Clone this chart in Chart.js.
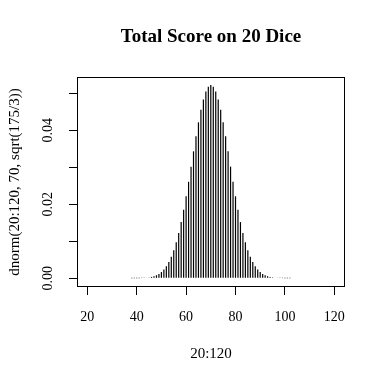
<!DOCTYPE html>
<html>
<head>
<meta charset="utf-8">
<script src="https://cdn.jsdelivr.net/npm/chart.js@4/dist/chart.umd.min.js"></script>
<style>
  html, body { margin: 0; padding: 0; background: #fff; }
  canvas { display: block; }
</style>
</head>
<body>
<canvas id="c" width="384" height="383"></canvas>
<script>
// Total score (x values 20:120)
const scores = [20,21,22,23,24,25,26,27,28,29,30,31,32,33,34,35,36,37,38,39,
  40,41,42,43,44,45,46,47,48,49,50,51,52,53,54,55,56,57,58,59,
  60,61,62,63,64,65,66,67,68,69,70,71,72,73,74,75,76,77,78,79,
  80,81,82,83,84,85,86,87,88,89,90,91,92,93,94,95,96,97,98,99,
  100,101,102,103,104,105,106,107,108,109,110,111,112,113,114,115,116,117,118,119,120];
// Density values
const density = [0,0,0,0,0,0,0,0,0,0,0,0,0,0,0,0,0,0,0.000008,0.000014,
  0.000023,0.000039,0.000063,0.000101,0.000159,0.000246,0.000375,0.000561,0.000825,0.00119,
  0.00169,0.00237,0.00325,0.00439,0.00582,0.00759,0.00973,0.01227,0.01520,0.01852,
  0.02217,0.02609,0.03018,0.03432,0.03837,0.04216,0.04554,0.04836,0.05047,0.05179,
  0.05223,0.05179,0.05047,0.04836,0.04554,0.04216,0.03837,0.03432,0.03018,0.02609,
  0.02217,0.01852,0.01520,0.01227,0.00973,0.00759,0.00582,0.00439,0.00325,0.00237,
  0.00169,0.00119,0.000825,0.000561,0.000375,0.000246,0.000159,0.000101,0.000063,0.000039,
  0.000023,0.000014,0.000008,0,0,0,0,0,0,0,0,0,0,0,0,0,0,0,0,0,0];
const xTicks = [20,40,60,80,100,120];
const xTickLabels = ['20','40','60','80','100','120'];
const yTicks = [0,0.01,0.02,0.03,0.04,0.05];
const yTickLabels = ['0.00','','0.02','','0.04',''];

const SERIF = "'Liberation Serif', 'Times New Roman', serif";

const boxPlugin = {
  id: 'box',
  beforeDraw(chart) {
    const ctx = chart.ctx;
    ctx.save();
    ctx.fillStyle = '#fff';
    ctx.fillRect(0, 0, chart.width, chart.height);
    ctx.restore();
  },
  afterDraw(chart) {
    const a = chart.chartArea, ctx = chart.ctx;
    ctx.save();
    ctx.strokeStyle = '#000';
    ctx.lineWidth = 1;
    ctx.strokeRect(Math.round(a.left) + 0.5, Math.round(a.top) + 0.5,
                   Math.round(a.right - a.left) - 1, Math.round(a.bottom - a.top) - 1);
    ctx.restore();
  }
};

new Chart(document.getElementById('c'), {
  type: 'bar',
  data: {
    datasets: [{
      data: scores.map((s, i) => ({ x: s, y: density[i] })),
      backgroundColor: '#000',
      borderWidth: 0,
      barThickness: 1.2,
      inflateAmount: 0,
      grouped: false
    }]
  },
  options: {
    responsive: false,
    animation: false,
    devicePixelRatio: 1,
    layout: { padding: { left: 0, right: 39, top: 0, bottom: 0 } },
    plugins: {
      legend: { display: false },
      tooltip: { enabled: false },
      title: {
        display: true,
        text: 'Total Score on 20 Dice',
        fullSize: false,
        color: '#000',
        font: { family: SERIF, size: 19, weight: 'bold', lineHeight: 1.2 },
        padding: { top: 25.6, bottom: 28.6 }
      }
    },
    scales: {
      x: {
        type: 'linear',
        min: 15.83,
        max: 124.33,
        offset: false,
        grid: { display: true, offset: false, drawOnChartArea: false, drawTicks: true, tickLength: 8, color: '#000', lineWidth: 1 },
        border: { display: false },
        afterBuildTicks: s => { s.ticks = xTicks.map(v => ({ value: v })); },
        afterFit: s => { s.height = 96; s.paddingLeft = 0; s.paddingRight = 0; s.paddingTop = 0; s.paddingBottom = 0; },
        ticks: {
          autoSkip: false,
          maxRotation: 0,
          minRotation: 0,
          padding: 14,
          color: '#000',
          font: { family: SERIF, size: 14 },
          callback: v => { const i = xTicks.indexOf(v); return i >= 0 ? xTickLabels[i] : ''; }
        },
        title: {
          display: true,
          text: '20:120',
          color: '#000',
          font: { family: SERIF, size: 15, lineHeight: 1.2 },
          padding: { top: 0, bottom: 20 }
        }
      },
      y: {
        type: 'linear',
        min: -0.00235,
        max: 0.05441,
        grid: { display: true, drawOnChartArea: false, drawTicks: true, tickLength: 8, color: '#000', lineWidth: 1 },
        border: { display: false },
        afterBuildTicks: s => { s.ticks = yTicks.map(v => ({ value: v })); },
        afterFit: s => { s.width = 77; s.paddingLeft = 0; s.paddingRight = 0; s.paddingTop = 0; s.paddingBottom = 0; },
        ticks: {
          autoSkip: false,
          minRotation: 90,
          maxRotation: 90,
          crossAlign: 'center',
          padding: 8,
          color: '#000',
          font: { family: SERIF, size: 14 },
          callback: v => { const i = yTicks.findIndex(t => Math.abs(t - v) < 1e-9); return i >= 0 ? yTickLabels[i] : ''; }
        },
        title: {
          display: true,
          text: 'dnorm(20:120, 70, sqrt(175/3))',
          color: '#000',
          font: { family: SERIF, size: 15, lineHeight: 1.2 },
          padding: { top: 6, bottom: 0 }
        }
      }
    }
  },
  plugins: [boxPlugin]
});
</script>
</body>
</html>
